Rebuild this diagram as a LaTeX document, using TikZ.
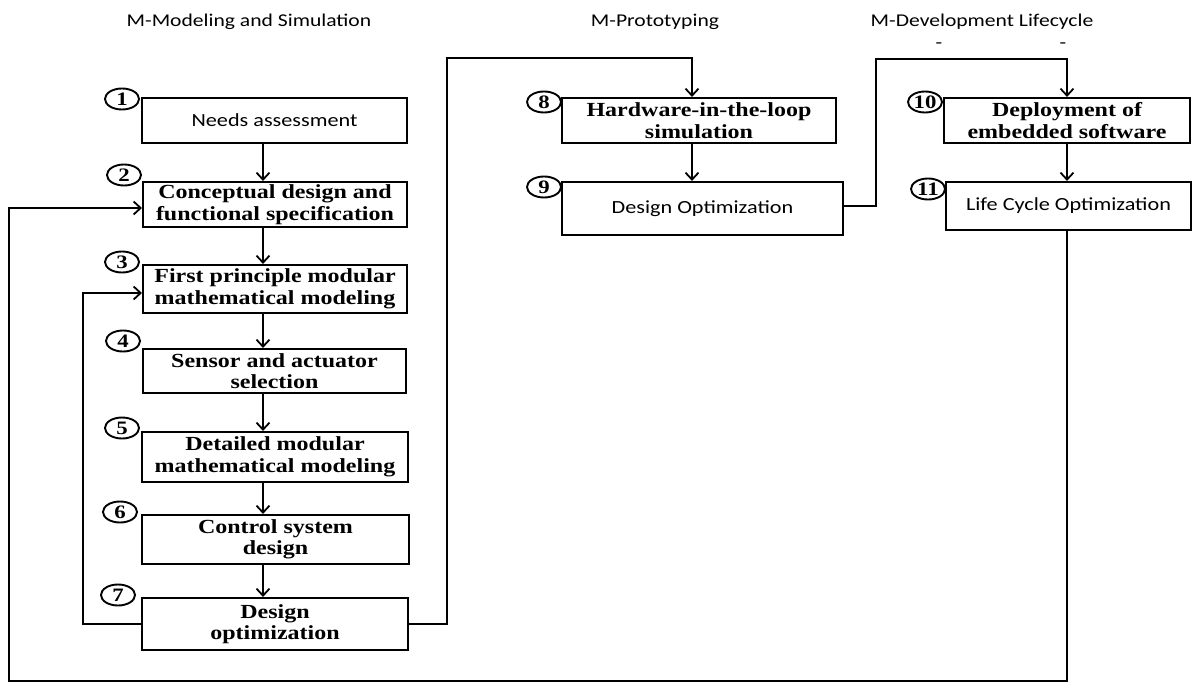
\documentclass[tikz,border=0pt]{standalone}
\usepackage{fontspec}
\usetikzlibrary{arrows.meta,shapes.geometric,calc}
\setmainfont{Liberation Serif}[FakeStretch=1.2]
\newfontfamily\calfont{Carlito}[FakeStretch=1.2]
\newcommand\boxserif{\fontsize{20}{21.5}\selectfont\bfseries}
\newcommand\boxsans{\calfont\fontsize{18.5}{21}\selectfont}
\newcommand\headfont{\calfont\fontsize{18}{21}\selectfont}
\newcommand\numfont{\fontsize{19}{19}\selectfont\bfseries}
\tikzset{
  stepbox/.style={draw, line width=2.1pt, inner sep=0pt, align=center, font=\boxserif},
  sansbox/.style={stepbox, font=\boxsans},
  num/.style={draw, ellipse, line width=1.9pt, minimum width=34pt, minimum height=21pt,
    inner sep=0pt, font=\numfont, fill=white},
  conn/.style={line width=1.8pt},
  flow/.style={conn, -{Straight Barb[length=7pt,width=13pt,line width=1.8pt]}},
  head/.style={font=\headfont, inner sep=0pt}
}
\begin{document}
\begin{tikzpicture}[x=1pt,y=-1pt]
\useasboundingbox (0,0) rectangle (1192,682);

% column titles
\node[head] (t1) at (249,22) {M-Modeling and Simulation};
\node[head] (t2) at (655,22) {M-Prototyping};
\node[head] (t3) at (982,22) {M-Development Lifecycle};
\node[head] (d1) at (939,46) {-};
\node[head] (d2) at (1063,46) {-};

% first column
\node[sansbox, minimum width=265, minimum height=45] (b1) at (274.5,120.5) {Needs assessment};
\node[stepbox, minimum width=264, minimum height=45] (b2) at (275,204.5) {Conceptual design and\\functional specification};
\node[stepbox, minimum width=264, minimum height=48] (b3) at (275,289) {First principle modular\\mathematical modeling};
\node[stepbox, minimum width=263, minimum height=44] (b4) at (274.5,371) {Sensor and actuator\\selection};
\node[stepbox, minimum width=266, minimum height=50] (b5) at (275,457) {Detailed modular\\mathematical modeling};
\node[stepbox, minimum width=267, minimum height=49] (b6) at (275.5,539.5) {Control system\\design};
\node[stepbox, minimum width=266, minimum height=52] (b7) at (275,624) {Design\\optimization};

% second column
\node[stepbox, minimum width=274, minimum height=45] (b8) at (699,120.5) {Hardware-in-the-loop\\simulation};
\node[sansbox, minimum width=281, minimum height=53] (b9) at (702.5,208.5) {Design Optimization};

% third column
\node[stepbox, minimum width=246, minimum height=45] (b10) at (1067,120.5) {Deployment of\\embedded software};
\node[sansbox, minimum width=245, minimum height=48] (b11) at (1068.5,206) {Life Cycle Optimization};

% step numbers
\node[num] (n1) at (122,99) {1};
\node[num] (n2) at (124,175) {2};
\node[num] (n3) at (122,262) {3};
\node[num] (n4) at (123,341) {4};
\node[num] (n5) at (122,428) {5};
\node[num] (n6) at (120,512) {6};
\node[num] (n7) at (118,595) {7};
\node[num] (n8) at (544,102) {8};
\node[num] (n9) at (544,187) {9};
\node[num] (n10) at (925,102) {10};
\node[num] (n11) at (928,189) {11};

% flow columns
\coordinate (ax) at (263,0);
\coordinate (bx) at (692,0);
\coordinate (cx) at (1067,0);

\draw[flow] (b1.south -| ax) -- (b2.north -| ax);
\draw[flow] (b2.south -| ax) -- (b3.north -| ax);
\draw[flow] (b3.south -| ax) -- (b4.north -| ax);
\draw[flow] (b4.south -| ax) -- (b5.north -| ax);
\draw[flow] (b5.south -| ax) -- (b6.north -| ax);
\draw[flow] (b6.south -| ax) -- (b7.north -| ax);
\draw[flow] (b8.south -| bx) -- (b9.north -| bx);
\draw[flow] (b10.south -| cx) -- (b11.north -| cx);

% hand-over and feedback paths
\coordinate (innerL) at (83,624);
\coordinate (riseA) at (447,58);
\coordinate (riseB) at (876,59);
\coordinate (outerR) at (1067,681);
\coordinate (outerL) at (9,208);

\draw[flow] (b7.west) -- (innerL) |- ($(b3.west)+(0,4)$);
\draw[flow] (b7.east) -| (riseA) -| (b8.north -| bx);
\draw[flow] ($(b9.east)+(0,-2.5)$) -| (riseB) -| (b10.north -| cx);
\draw[flow] (b11.south -| cx) -- (outerR) -| (outerL) -- ($(b2.west)+(0,3.5)$);
\end{tikzpicture}
\end{document}
